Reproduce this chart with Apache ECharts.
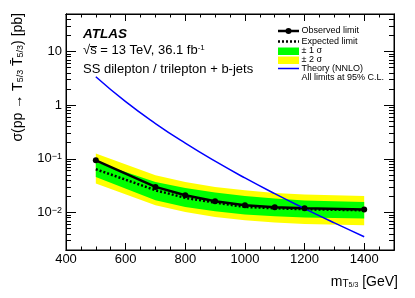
<!DOCTYPE html>
<html>
<head>
<meta charset="utf-8">
<script src="https://cdn.jsdelivr.net/npm/echarts@6/dist/echarts.min.js"></script>
<style>html,body{margin:0;padding:0;background:#fff;}#c{width:415px;height:298px;}</style>
</head>
<body>
<div id="c"></div>
<script>
// ---- data ----
const masses = [500, 700, 800, 900, 1000, 1100, 1200, 1400];
const observed = [0.094, 0.030, 0.021, 0.0162, 0.0137, 0.0125, 0.0120, 0.0114];
const expected = [0.064, 0.026, 0.0187, 0.0153, 0.0127, 0.0120, 0.0115, 0.0110];
const minus1 = [0.0461, 0.0169, 0.0127, 0.01057, 0.00916, 0.0085, 0.00805, 0.0077];
const plus1 = [0.0877, 0.0372, 0.0287, 0.0236, 0.0204, 0.0182, 0.0167, 0.0157];
const minus2 = [0.0347, 0.0137, 0.01025, 0.00826, 0.00718, 0.0065, 0.00612, 0.00578];
const plus2 = [0.126, 0.0496, 0.0372, 0.030, 0.026, 0.0232, 0.0216, 0.0204];
const theoryMass = [500, 600, 700, 800, 900, 1000, 1100, 1200, 1300, 1400];
const theory = [3.38, 1.16, 0.455, 0.196, 0.0903, 0.0440, 0.0224, 0.0118, 0.00639, 0.00354];
const xMajorTicks = [400, 600, 800, 1000, 1200, 1400];
const xMinorTicks = [450, 500, 550, 650, 700, 750, 850, 900, 950, 1050, 1100, 1150, 1250, 1300, 1350, 1450];
const yMajorTicks = [0.01, 0.1, 1, 10];
const yMinorTicks = [0.003,0.004,0.005,0.006,0.007,0.008,0.009,0.02,0.03,0.04,0.05,0.06,0.07,0.08,0.09,
  0.2,0.3,0.4,0.5,0.6,0.7,0.8,0.9,2,3,4,5,6,7,8,9,20,30,40];
const yLabelText = {0.01: '10{sup|−2}', 0.1: '10{sup|−1}', 1: '1', 10: '10'};

const FONT = 'Liberation Sans, Arial, Helvetica, sans-serif';
const pairs = (xs, ys) => xs.map((x, i) => [x, ys[i]]);
const triples = (xs, lo, hi) => xs.map((x, i) => [x, lo[i], hi[i]]);

const chart = echarts.init(document.getElementById('c'), null, {renderer: 'canvas'});

const X0 = 400, X1 = 1500, Y0 = 0.002, Y1 = 50;
function xAx(pos, ticks, len, labels) {
  return {
    type: 'value', min: X0, max: X1, interval: 200, position: pos,
    axisLine: {show: labels !== null, lineStyle: {color: '#000', width: 1}},
    axisTick: {show: true, inside: true, length: len, customValues: ticks, lineStyle: {color: '#000', width: 1}},
    axisLabel: labels ? {show: true, customValues: xMajorTicks, formatter: v => String(v), color: '#000', fontSize: 13, fontFamily: FONT, margin: 3} : {show: false},
    splitLine: {show: false}, minorTick: {show: false}
  };
}
function yAx(pos, ticks, len, labels) {
  return {
    type: 'log', logBase: 10, min: Y0, max: Y1, position: pos,
    axisLine: {show: labels !== null, lineStyle: {color: '#000', width: 1}},
    axisTick: {show: true, inside: true, length: len, customValues: ticks, lineStyle: {color: '#000', width: 1}},
    axisLabel: labels ? {
      show: true, customValues: yMajorTicks, color: '#000', fontSize: 13, fontFamily: FONT, margin: 4,
      formatter: v => { for (const k in yLabelText) { if (Math.abs(Math.log10(v) - Math.log10(+k)) < 1e-6) return yLabelText[k]; } return ''; },
      rich: {sup: {fontSize: 9, fontFamily: FONT, color: '#000', verticalAlign: 'top', lineHeight: 9}}
    } : {show: false},
    splitLine: {show: false}, minorTick: {show: false}
  };
}

function bandSeries(name, lo, hi, color) {
  const data = triples(masses, lo, hi);
  return {
    type: 'custom', name: name, data: data, silent: true,
    encode: {x: 0, y: [1, 2]},
    renderItem: (params, api) => {
      if (params.dataIndex !== 0) return null;
      const pts = [];
      for (let i = 0; i < data.length; i++) pts.push(api.coord([data[i][0], data[i][2]]));
      for (let i = data.length - 1; i >= 0; i--) pts.push(api.coord([data[i][0], data[i][1]]));
      return {type: 'polygon', shape: {points: pts}, style: {fill: color, stroke: null}};
    }
  };
}

const LF = '9px ' + FONT;
const option = {
  animation: false,
  backgroundColor: '#fff',
  grid: {left: 66, right: 21, top: 14, bottom: 48, show: true, borderColor: '#000', borderWidth: 1, backgroundColor: 'transparent'},
  xAxis: [
    xAx('bottom', xMajorTicks, 7, true),
    xAx('bottom', xMinorTicks, 3.5, false),
    xAx('top', xMajorTicks, 7, false),
    xAx('top', xMinorTicks, 3.5, false)
  ],
  yAxis: [
    yAx('left', yMajorTicks, 10, true),
    yAx('left', yMinorTicks, 5, false),
    yAx('right', yMajorTicks, 10, false),
    yAx('right', yMinorTicks, 5, false)
  ],
  series: [
    bandSeries('±2σ', minus2, plus2, '#ffff00'),
    bandSeries('±1σ', minus1, plus1, '#00ff00'),
    {type: 'line', name: 'Expected limit', data: pairs(masses, expected), symbol: 'none', lineStyle: {color: '#000', width: 2.5, type: [2, 2]}},
    {type: 'line', name: 'Observed limit', data: pairs(masses, observed), symbol: 'circle', symbolSize: 6, itemStyle: {color: '#000'}, lineStyle: {color: '#000', width: 2.5}},
    {type: 'line', name: 'Theory (NNLO)', data: pairs(theoryMass, theory), symbol: 'none', smooth: true, lineStyle: {color: '#0000ff', width: 1.5}}
  ],
  graphic: [
    {type: 'text', left: 83, top: 27, style: {text: 'ATLAS', font: 'bold italic 13.5px ' + FONT, fill: '#000'}},
    {type: 'text', left: 83, top: 44, style: {text: '√s = 13 TeV, 36.1 fb{sup|-1}', font: '13px ' + FONT, fill: '#000',
      rich: {sup: {fontSize: 8, fontFamily: FONT, verticalAlign: 'top', lineHeight: 8}}}},
    {type: 'line', shape: {x1: 90, y1: 46.5, x2: 97, y2: 46.5}, style: {stroke: '#000', lineWidth: 1}},
    {type: 'text', left: 83, top: 63, style: {text: 'SS dilepton / trilepton + b-jets', font: '13px ' + FONT, fill: '#000'}},
    // legend
    {type: 'line', shape: {x1: 278, y1: 31, x2: 299, y2: 31}, style: {stroke: '#000', lineWidth: 2.5}},
    {type: 'circle', shape: {cx: 288.5, cy: 31, r: 3}, style: {fill: '#000'}},
    {type: 'line', shape: {x1: 278, y1: 41.5, x2: 299, y2: 41.5}, style: {stroke: '#000', lineWidth: 2.5, lineDash: [2, 2]}},
    {type: 'rect', shape: {x: 278, y: 47.5, width: 21, height: 7.5}, style: {fill: '#00ff00'}},
    {type: 'rect', shape: {x: 278, y: 56.5, width: 21, height: 7.5}, style: {fill: '#ffff00'}},
    {type: 'line', shape: {x1: 278, y1: 68.5, x2: 299, y2: 68.5}, style: {stroke: '#0000ff', lineWidth: 1.5}},
    {type: 'text', x: 301.5, y: 31, style: {text: 'Observed limit', font: LF, fill: '#000', verticalAlign: 'middle'}},
    {type: 'text', x: 301.5, y: 41.5, style: {text: 'Expected limit', font: LF, fill: '#000', verticalAlign: 'middle'}},
    {type: 'text', x: 301.5, y: 51, style: {text: '± 1 σ', font: LF, fill: '#000', verticalAlign: 'middle'}},
    {type: 'text', x: 301.5, y: 60, style: {text: '± 2 σ', font: LF, fill: '#000', verticalAlign: 'middle'}},
    {type: 'text', x: 301.5, y: 68.5, style: {text: 'Theory (NNLO)', font: LF, fill: '#000', verticalAlign: 'middle'}},
    {type: 'text', x: 301.5, y: 77.5, style: {text: 'All limits at 95% C.L.', font: LF, fill: '#000', verticalAlign: 'middle'}},
    // axis titles
    {type: 'text', x: 18, y: 13, rotation: Math.PI / 2, style: {
      text: 'σ(pp → T{sub|5/3} T\u0304{sub|5/3}) [pb]', font: '14px ' + FONT, fill: '#000', align: 'right', verticalAlign: 'middle',
      rich: {sub: {fontSize: 9, fontFamily: FONT, verticalAlign: 'bottom', lineHeight: 9}}}},
    {type: 'text', x: 398, y: 282, style: {
      text: 'm{sub|T}{subsub|5/3} [GeV]', font: '14px ' + FONT, fill: '#000', align: 'right', verticalAlign: 'middle',
      rich: {sub: {fontSize: 10, fontFamily: FONT, verticalAlign: 'bottom', lineHeight: 10}, subsub: {fontSize: 7, fontFamily: FONT, verticalAlign: 'bottom', lineHeight: 4}}}}
  ]
};
chart.setOption(option);
</script>
</body>
</html>
